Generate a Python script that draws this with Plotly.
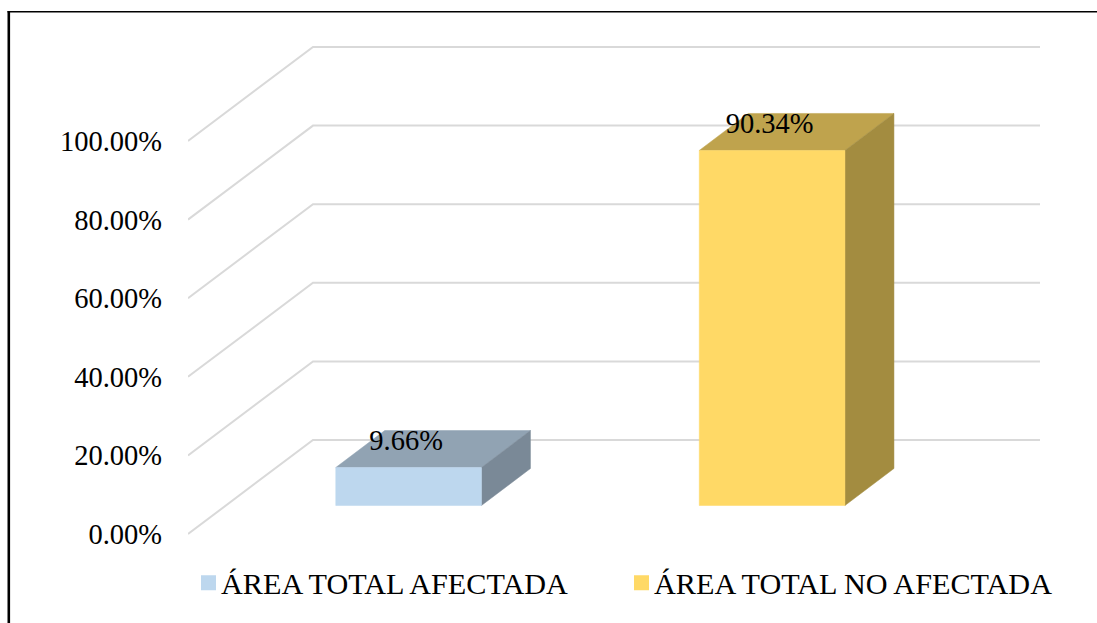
import plotly.graph_objects as go

categories = ["ÁREA TOTAL AFECTADA", "ÁREA TOTAL NO AFECTADA"]
values = [9.66, 90.34]
y_ticks = [0, 20, 40, 60, 80, 100]
y_tick_labels = ["0.00%", "20.00%", "40.00%", "60.00%", "80.00%", "100.00%"]
front_colors = ["#BDD7EE", "#FFD966"]
top_colors = ["#91A3B3", "#BFA34D"]
side_colors = ["#7A8997", "#A38C40"]

W, H = 1097, 623
L, R, T, B = 188, 57, 40, 83
PX_Y = 3.93       # pixels per percentage point
PX_X = 363.5      # pixels per category slot
plot_w = W - L - R
plot_h = H - T - B
y_min = -6 / PX_Y
y_max = y_min + plot_h / PX_Y
x_min = -0.5
x_max = x_min + plot_w / PX_X

# oblique projection of the floor depth, in axis units
DEPTH_X, DEPTH_Y = 125 / PX_X, 94 / PX_Y
BAR_DX, BAR_DY = 49 / PX_X, 37 / PX_Y
INSET_X, INSET_Y = 37.9 / PX_X, 28.5 / PX_Y
HALF_W = 72.85 / PX_X
BAR_SHIFT = 0.95 / PX_X

fig = go.Figure()

# walls: diagonal on the side wall, then horizontal on the back wall
gx, gy = [], []
for v in y_ticks:
    gx += [x_min, x_min + DEPTH_X, x_max, None]
    gy += [v, v + DEPTH_Y, v + DEPTH_Y, None]
fig.add_trace(go.Scatter(x=gx, y=gy, mode="lines", showlegend=False, hoverinfo="skip",
                         line=dict(color="#D9D9D9", width=2)))


def face(xs, ys, color):
    fig.add_trace(go.Scatter(x=xs, y=ys, mode="lines", fill="toself", fillcolor=color,
                             line=dict(color=color, width=0.5), showlegend=False,
                             hoverinfo="skip"))


for i, v in enumerate(values):
    xl = i + INSET_X - HALF_W + BAR_SHIFT
    xr = i + INSET_X + HALF_W + BAR_SHIFT
    y0 = INSET_Y
    y1 = INSET_Y + v
    face([xl, xr, xr + BAR_DX, xl + BAR_DX, xl], [y1, y1, y1 + BAR_DY, y1 + BAR_DY, y1], top_colors[i])
    face([xr, xr + BAR_DX, xr + BAR_DX, xr, xr], [y0, y0 + BAR_DY, y1 + BAR_DY, y1, y0], side_colors[i])
    face([xl, xr, xr, xl, xl], [y0, y0, y1, y1, y0], front_colors[i])

# data labels
fig.add_trace(go.Scatter(
    x=[i + INSET_X - 1.5 / PX_X for i in range(len(values))],
    y=[v + 13.4 for v in values],
    mode="text", text=[f"{v:.2f}%" for v in values], textposition="middle center",
    textfont=dict(family="Liberation Serif", size=28.5, color="#000000"),
    showlegend=False, hoverinfo="skip"))

# legend entries, one legend per category so each can sit at its own position
for name, color, lg in zip(categories, front_colors, ["legend", "legend2"]):
    fig.add_trace(go.Scatter(x=[None], y=[None], mode="markers", name=name, legend=lg,
                             showlegend=True,
                             marker=dict(symbol="square", size=15, color=color,
                                         angle=90, standoff=7.5)))


def px(x):
    return (x - L) / plot_w


def py(y):
    return (H - B - y) / plot_h


legend_font = dict(family="Liberation Serif", size=30.2, color="#000000")
fig.update_layout(
    width=W, height=H, autosize=False,
    margin=dict(l=L, r=R, t=T, b=B, pad=0, autoexpand=False),
    paper_bgcolor="#FFFFFF", plot_bgcolor="#FFFFFF",
    font=dict(family="Liberation Serif", size=28.5, color="#000000"),
    xaxis=dict(range=[x_min, x_max], showticklabels=False, showgrid=False, zeroline=False,
               showline=False, ticks="", fixedrange=True),
    yaxis=dict(range=[y_min, y_max], tickmode="array", tickvals=y_ticks, ticktext=y_tick_labels,
               showgrid=False, zeroline=False, showline=False, ticks="",
               ticklabelstandoff=25, fixedrange=True,
               tickfont=dict(family="Liberation Serif", size=28.5, color="#000000")),
    legend=dict(x=px(181), y=py(556.5), xanchor="left", yanchor="top",
                bgcolor="rgba(0,0,0,0)", font=legend_font),
    legend2=dict(x=px(614), y=py(556.5), xanchor="left", yanchor="top",
                 bgcolor="rgba(0,0,0,0)", font=legend_font),
    shapes=[
        dict(type="line", xref="paper", yref="paper", x0=px(7.5), x1=px(W), y0=py(11.8), y1=py(11.8),
             line=dict(color="#000000", width=1.6)),
        dict(type="line", xref="paper", yref="paper", x0=px(8.8), x1=px(8.8), y0=py(11), y1=py(H),
             line=dict(color="#000000", width=2.6)),
    ],
)

fig.write_html("out.html", config={"displayModeBar": False},
               post_script="document.body.style.margin='0';document.body.style.overflow='hidden';")
